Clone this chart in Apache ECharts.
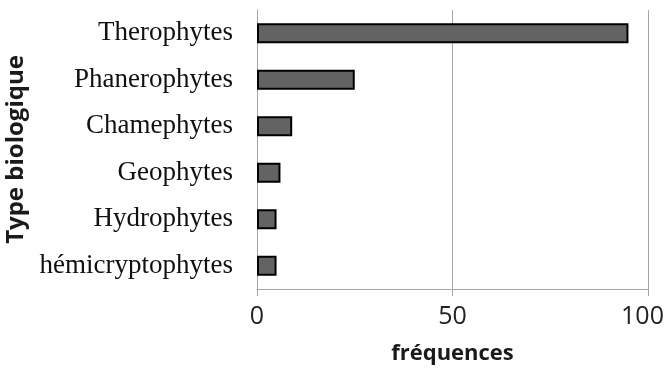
<!DOCTYPE html>
<html>
<head>
<meta charset="utf-8">
<script src="https://cdn.jsdelivr.net/npm/echarts@6/dist/echarts.min.js"></script>
<style>
  html, body { margin: 0; padding: 0; background: #fff; }
  #chart { width: 669px; height: 384px; }
</style>
</head>
<body>
<div id="chart"></div>
<script>
// Biological types, listed top to bottom
const categories = ['Therophytes', 'Phanerophytes', 'Chamephytes', 'Geophytes', 'Hydrophytes', 'hémicryptophytes'];
const frequencies = [95, 25, 9, 6, 5, 5];
const xTicks = [0, 50, 100];

const gridGrey = '#a6a6a6';
const xMax = xTicks[xTicks.length - 1];
const tickFont = { fontFamily: 'Open Sans', fontSize: 25, color: '#222' };

const chart = echarts.init(document.getElementById('chart'), null, { renderer: 'canvas' });
chart.setOption({
  animation: false,
  backgroundColor: '#ffffff',
  grid: { left: 257, right: 21, top: 10, bottom: 95, containLabel: false, outerBoundsMode: 'none' },
  xAxis: {
    type: 'value',
    min: xTicks[0],
    max: xMax,
    interval: xTicks[1] - xTicks[0],
    name: 'fréquences',
    nameLocation: 'middle',
    nameGap: 54,
    nameTextStyle: { fontFamily: 'Open Sans', fontWeight: 'bold', fontSize: 22, color: '#1a1a1a' },
    axisLine: { show: true, lineStyle: { color: gridGrey, width: 1 } },
    axisTick: { show: true, length: 7, lineStyle: { color: gridGrey } },
    axisLabel: Object.assign({
      margin: 15,
      // keep the last label inside the canvas edge
      formatter: (v) => (v === xMax ? '{last|' + v + '}' : String(v)),
      rich: { last: Object.assign({ padding: [0, 11, 0, 0] }, tickFont) }
    }, tickFont),
    splitLine: { show: true, lineStyle: { color: gridGrey, width: 1 } }
  },
  yAxis: {
    type: 'category',
    data: categories,
    inverse: true,
    name: 'Type biologique',
    nameLocation: 'middle',
    nameGap: 226,
    nameRotate: 90,
    nameTextStyle: { fontFamily: 'Open Sans', fontWeight: 'bold', fontSize: 24, color: '#1a1a1a' },
    axisLine: { show: true, lineStyle: { color: gridGrey, width: 1 } },
    axisTick: { show: false },
    axisLabel: { margin: 24, fontFamily: 'Liberation Serif', fontSize: 27, color: '#111' }
  },
  series: [{
    type: 'bar',
    data: frequencies,
    barWidth: 20,
    itemStyle: { color: '#636363', borderColor: '#000000', borderWidth: 2 }
  }]
});
</script>
</body>
</html>
